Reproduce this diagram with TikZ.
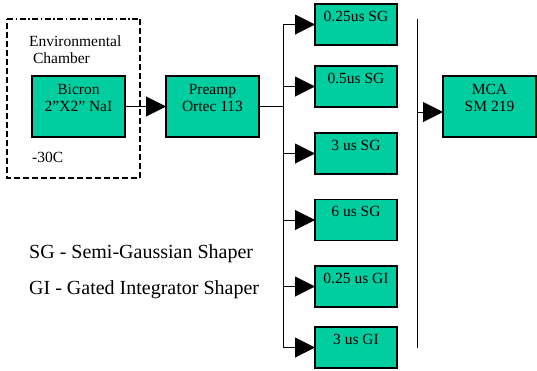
\documentclass[tikz,border=0pt]{standalone}
\usepackage{fontspec}
\setmainfont{Liberation Serif}
\usepackage{xcolor}
\definecolor{unitfill}{RGB}{0, 206, 160}
\usepackage{tikz}
\usetikzlibrary{positioning, arrows.meta}

\begin{document}
\begin{tikzpicture}[x=1pt, y=-1pt]

  \tikzstyle{unitbox} = [
    draw=black, line width=1.3pt, fill=unitfill,
    inner sep=0pt, outer sep=0pt
  ]
  \tikzstyle{unittext} = [
    anchor=north, align=center, inner sep=0pt,
    font=\fontsize{15.5}{17}\selectfont
  ]
  \tikzstyle{feed} = [
    line width=1pt, -{Triangle[length=20pt, width=20pt]}
  ]
  \tikzstyle{wire} = [line width=1pt]
  \tikzstyle{wall} = [line width=1.3pt, dash pattern=on 6pt off 3pt]

  \useasboundingbox (0,0) rectangle (537,370);

  \draw[wall, dash pattern=on 6pt off 2.5pt on 1.5pt off 2.5pt]
    (7,19) -- (140,19);
  \draw[wall] (140,19) -- (140,178) -- (7,178) -- (7,19);

  \node[anchor=north west, align=left, inner sep=0pt,
        font=\fontsize{15.5}{17}\selectfont] (chamber) at (29,36)
    {Environmental\\\ Chamber};
  \node[anchor=north west, inner sep=0pt,
        font=\fontsize{15.5}{17}\selectfont] (temp) at (32,152) {-30C};

  \node[unitbox, minimum width=93pt, minimum height=61pt,
        label={[unittext, yshift=-8pt]north:Bicron\\2''X2'' NaI}]
    (bicron) at (78.5,106.5) {};
  \node[unitbox, minimum width=93pt, minimum height=61pt,
        label={[unittext, yshift=-8pt]north:Preamp\\Ortec 113}]
    (preamp) at (212.5,106.5) {};
  \node[unitbox, minimum width=93pt, minimum height=61pt,
        label={[unittext, yshift=-8pt]north:MCA\\SM 219}]
    (mca) at (489.5,106.5) {};

  \node[unitbox, minimum width=82pt, minimum height=41pt,
        label={[unittext, yshift=-7pt]north:0.25us SG}]
    (sh1) at (356,24.5) {};
  \node[unitbox, minimum width=82pt, minimum height=41pt,
        label={[unittext, yshift=-7pt]north:0.5us SG}]
    (sh2) at (356,86.5) {};
  \node[unitbox, minimum width=82pt, minimum height=41pt,
        label={[unittext, yshift=-7pt]north:3 us SG}]
    (sh3) at (356,153.5) {};
  \node[unitbox, minimum width=82pt, minimum height=41pt,
        label={[unittext, yshift=-7pt]north:6 us SG}]
    (sh4) at (356,220) {};
  \node[unitbox, minimum width=82pt, minimum height=41pt,
        label={[unittext, yshift=-7pt]north:0.25 us GI}]
    (sh5) at (356,286.5) {};
  \node[unitbox, minimum width=82pt, minimum height=41pt,
        label={[unittext, yshift=-7pt]north:3 us GI}]
    (sh6) at (356,347.5) {};

  \node[anchor=north west, align=left, inner sep=0pt,
        font=\fontsize{20}{36}\selectfont] (legend) at (29,244)
    {SG - Semi-Gaussian Shaper\\GI - Gated Integrator Shaper};

  \coordinate (bustop) at (283,24.5);
  \coordinate (busbot) at (283,347.5);
  \coordinate (coltop) at (417,19);
  \coordinate (colbot) at (417,348);
  \coordinate (colout) at (417,112);

  \draw[feed] (bicron.east) -- (preamp.west);
  \draw[wire] (preamp.east) -- (preamp.east -| bustop);
  \draw[wire] (bustop) -- (busbot);
  \draw[feed] (bustop) -- (sh1.west);
  \draw[feed] (bustop |- sh2.west) -- (sh2.west);
  \draw[feed] (bustop |- sh3.west) -- (sh3.west);
  \draw[feed] (bustop |- sh4.west) -- (sh4.west);
  \draw[feed] (bustop |- sh5.west) -- (sh5.west);
  \draw[feed] (busbot) -- (sh6.west);
  \draw[wire] (coltop) -- (colbot);
  \draw[feed] (colout) -- (colout -| mca.west);

\end{tikzpicture}
\end{document}
